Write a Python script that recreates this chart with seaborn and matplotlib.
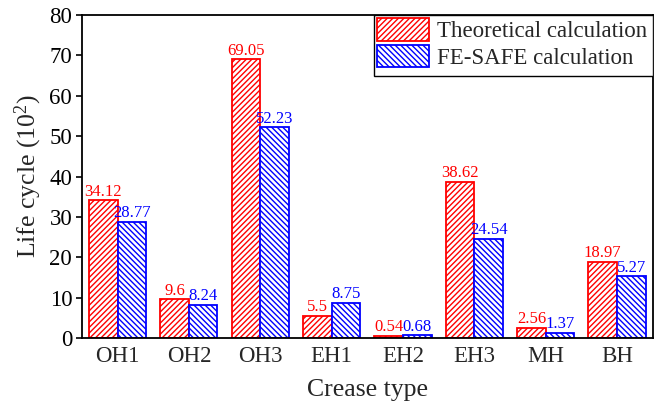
import numpy as np
import pandas as pd
import matplotlib
matplotlib.use("Agg")
import matplotlib.pyplot as plt
from matplotlib.patches import Rectangle
import seaborn as sns

categories = ["OH1", "OH2", "OH3", "EH1", "EH2", "EH3", "MH", "BH"]
theoretical = [34.12, 9.6, 69.05, 5.5, 0.54, 38.62, 2.56, 18.97]
fesafe = [28.77, 8.24, 52.23, 8.75, 0.68, 24.54, 1.37, 15.27]
theoretical_labels = ["34.12", "9.6", "69.05", "5.5", "0.54", "38.62", "2.56", "18.97"]
fesafe_labels = ["28.77", "8.24", "52.23", "8.75", "0.68", "24.54", "1.37", "5.27"]
series_names = ["Theoretical calculation", "FE-SAFE calculation"]
y_ticks = [0, 10, 20, 30, 40, 50, 60, 70, 80]

sns.set_theme(style="white")
plt.rcParams["font.family"] = ["Liberation Serif", "DejaVu Serif"]
plt.rcParams["mathtext.fontset"] = "custom"
plt.rcParams["mathtext.rm"] = "Liberation Serif"
plt.rcParams["mathtext.it"] = "Liberation Serif:italic"
plt.rcParams["hatch.linewidth"] = 1.0

df = pd.DataFrame({
    "Crease type": categories * 2,
    "Life": theoretical + fesafe,
    "Method": [series_names[0]] * len(categories) + [series_names[1]] * len(categories),
})

fig = plt.figure(figsize=(6.66, 4.18), dpi=100)
ax = fig.add_axes([0.123, 0.191, 0.857, 0.773])

sns.barplot(data=df, x="Crease type", y="Life", hue="Method", order=categories,
            hue_order=series_names, palette=["white", "white"], width=0.8,
            legend=False, ax=ax, errorbar=None)

colors = ["#ff0000", "#0000ff"]
hatches = ["//////", "\\\\\\\\\\\\"]
label_sets = [theoretical_labels, fesafe_labels]
for cont, col, h, labs in zip(ax.containers, colors, hatches, label_sets):
    for p in cont:
        p.set_facecolor("white")
        p.set_edgecolor(col)
        p.set_linewidth(1.3)
        p.set_hatch(h)
        if hasattr(p, "set_hatchcolor"):
            p.set_hatchcolor(col)
    ax.bar_label(cont, labels=labs, color=col, fontsize=12, padding=0.5)

ax.set_xlim(-0.5, len(categories) - 0.5)
ax.set_ylim(0, 80)
ax.set_yticks(y_ticks)
ax.set_xlabel("Crease type", fontsize=18.5, labelpad=8)
ax.set_ylabel("Life cycle (10$^{2}$)", fontsize=18.5, labelpad=4)
ax.tick_params(axis="y", which="major", direction="out", length=4, width=1.2,
               labelsize=16.5, pad=3, left=True, colors="black")
ax.tick_params(axis="x", which="major", length=0, labelsize=16.5, pad=6)
for s in ax.spines.values():
    s.set_visible(True)
    s.set_color("black")
    s.set_linewidth(1.3)

# legend frame drawn as a box anchored to the top-right corner of the axes
frame = Rectangle((0.511, 0.811), 0.489, 0.189, transform=ax.transAxes,
                  facecolor="white", edgecolor="black", linewidth=1.0, zorder=4)
ax.add_patch(frame)
leg = ax.legend(handles=list(ax.containers), labels=series_names, loc="upper left",
                bbox_to_anchor=(0.511, 1.0), fontsize=16.5, frameon=False,
                borderaxespad=0, handlelength=2.27, handleheight=1.13,
                handletextpad=0.35, labelspacing=0.1, borderpad=0.15)
leg.set_zorder(5)

fig.savefig("out.png", dpi=100)
